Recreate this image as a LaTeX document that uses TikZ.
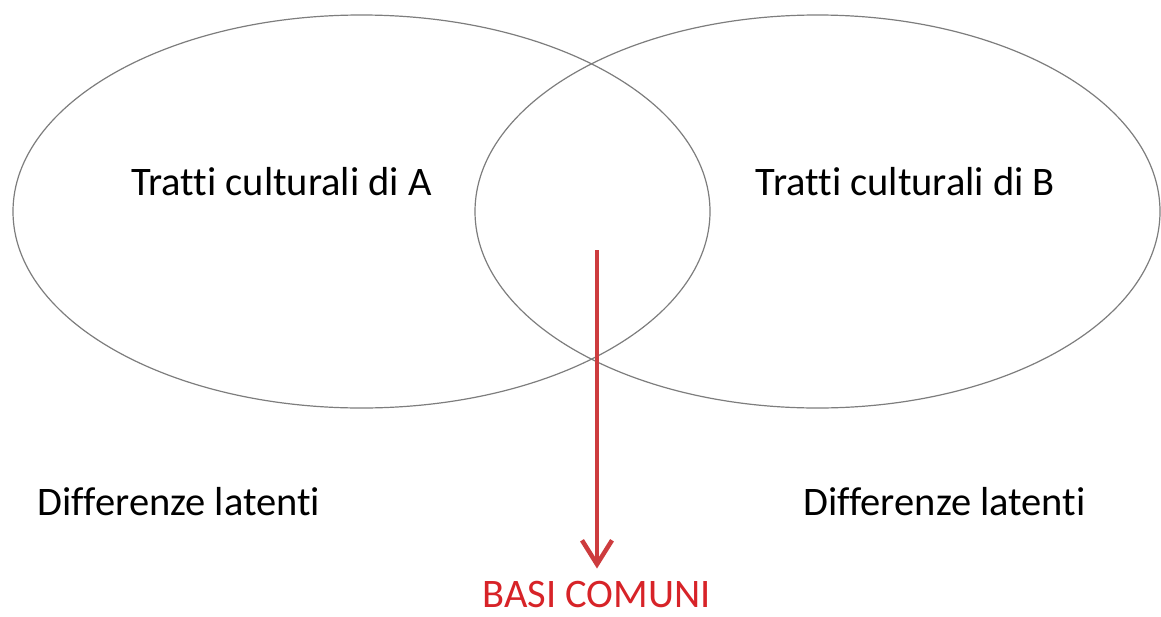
\documentclass[tikz,border=0pt]{standalone}
\usepackage{fontspec}
\setmainfont{Carlito}[Ligatures={NoCommon}]
\usetikzlibrary{arrows.meta}
\definecolor{ringgray}{RGB}{125,125,125}
\definecolor{arrowred}{RGB}{205,60,62}
\definecolor{basired}{RGB}{215,35,40}
\begin{document}
\begin{tikzpicture}[x=1pt,y=-1pt]
\tikzstyle{every node}=[font=\fontsize{40.5}{48}\selectfont,inner sep=0pt,anchor=base];
\tikzstyle{ring}=[draw=ringgray,line width=1.2pt];
\useasboundingbox (0,0) rectangle (1161,616);
\path[ring] (361.5,211.5) ellipse (348.5 and 196.5);
\path[ring] (817.5,211.5) ellipse (342.5 and 196.5);
\node (trattiA) at (281.5,195) {Tratti culturali di A};
\node (trattiB) at (905.5,195) {Tratti culturali di B};
\node (diffA) at (179,515) {Differenze latenti};
\node (diffB) at (944.5,515) {Differenze latenti};
\node[text=basired,text depth=0pt] (basi) at (596.5,607) {BASI COMUNI};
\coordinate (top) at (597,250);
\draw[arrowred,line width=4.5pt,-{Straight Barb[length=24pt,width=30pt]},shorten >=12pt] (top) -- (top|-basi.north);
\end{tikzpicture}
\end{document}
